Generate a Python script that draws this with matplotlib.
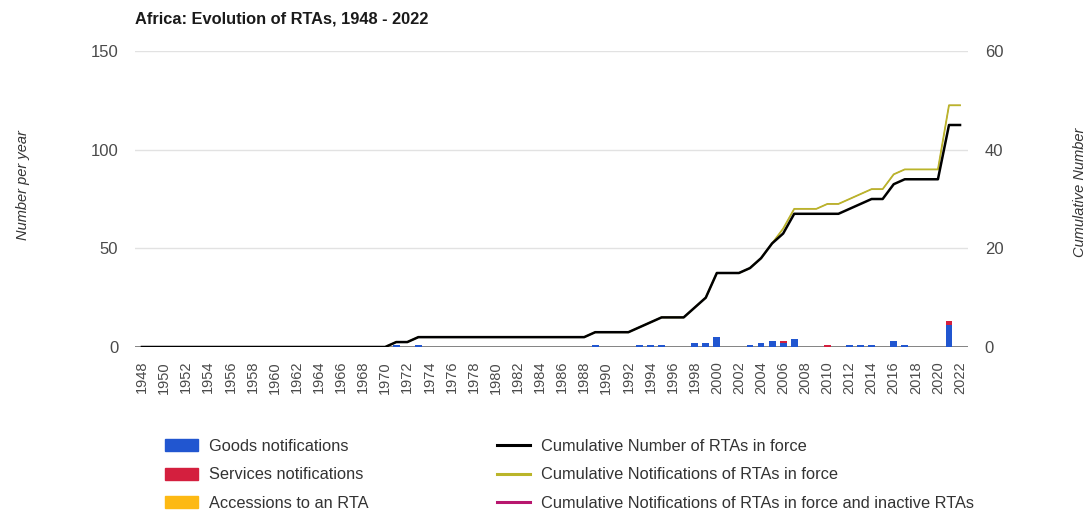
import numpy as np
import matplotlib
matplotlib.use("Agg")
import matplotlib.pyplot as plt
from matplotlib.patches import Patch
from matplotlib.lines import Line2D

plt.rcParams["font.family"] = ["Liberation Sans", "DejaVu Sans"]

# ---- data ----
years = np.arange(1948, 2023)

goods = {1971: 1, 1973: 1, 1989: 1, 1993: 1, 1994: 1, 1995: 1, 1998: 2, 1999: 2,
         2000: 5, 2003: 1, 2004: 2, 2005: 3, 2006: 2, 2007: 4, 2012: 1, 2013: 1,
         2014: 1, 2016: 3, 2017: 1, 2021: 11}
services = {2006: 1, 2010: 1, 2021: 2}
accessions = {}

cum_in_force = [0] * 23 + [
    1, 1, 2, 2, 2, 2, 2, 2, 2, 2, 2, 2, 2, 2, 2, 2, 2, 2,   # 1971-1988
    3, 3, 3, 3, 4, 5, 6, 6, 6, 8, 10, 15, 15, 15, 16, 18,   # 1989-2004
    21, 23, 27, 27, 27, 27, 27, 28, 29, 30, 30, 33, 34, 34,  # 2005-2018
    34, 34, 45, 45,                                         # 2019-2022
]
cum_notif = cum_in_force[:58] + [
    24, 28, 28, 28, 29, 29, 30, 31, 32, 32, 35, 36, 36, 36, 36, 49, 49,  # 2006-2022
]
cum_notif_inactive = list(cum_notif)

year_ticks = np.arange(1948, 2023, 2)

C = {
    "goods": "#2156d0",
    "services": "#d41f3e",
    "acc": "#fdb913",
    "cum": "#000000",
    "notif": "#bab52a",
    "inactive": "#b8166e",
    "grid": "#e2e2e2",
    "base": "#7a7a7a",
    "tick": "#4a4a4a",
}

W, H = 1087, 512
fig = plt.figure(figsize=(W / 100, H / 100), dpi=100)
ax = fig.add_axes([135 / W, 1 - 347 / H, (968 - 135) / W, (347 - 51) / H])
ax2 = ax.twinx()

g = np.array([goods.get(y, 0) for y in years])
s = np.array([services.get(y, 0) for y in years])
a = np.array([accessions.get(y, 0) for y in years])
bw = 0.62
ax.bar(years, g, bw, color=C["goods"], zorder=2)
ax.bar(years, s, bw, bottom=g, color=C["services"], zorder=2)
ax.bar(years, a, bw, bottom=g + s, color=C["acc"], zorder=2)

# inactive series coincides with the notifications line, so it sits underneath
ax2.plot(years, cum_notif_inactive, color=C["inactive"], lw=0.6, zorder=2)
ax2.plot(years, cum_notif, color=C["notif"], lw=1.3, zorder=3)
ax2.plot(years, cum_in_force, color=C["cum"], lw=1.8, zorder=4)

ax.set_xlim(1947.37, 2022.72)
ax.set_ylim(0, 150)
ax2.set_ylim(0, 60)
ax.set_yticks([0, 50, 100, 150])
ax2.set_yticks([0, 20, 40, 60])
ax.set_xticks(year_ticks)
ax.set_xticklabels([str(y) for y in year_ticks], rotation=90)

ax.grid(axis="y", color=C["grid"], lw=1.0, zorder=0)
ax.set_axisbelow(True)
for a_ in (ax, ax2):
    for sp in a_.spines.values():
        sp.set_visible(False)
ax.axhline(0, color=C["base"], lw=1.3, zorder=1)

ax.tick_params(axis="x", length=0, pad=10, labelsize=10.5, colors=C["tick"])
ax.tick_params(axis="y", length=0, pad=12, labelsize=12, colors=C["tick"])
ax2.tick_params(axis="y", length=0, pad=12, labelsize=12, colors=C["tick"])

fig.text(135 / W, 1 - 19 / H, "Africa: Evolution of RTAs, 1948 - 2022",
         fontsize=11.8, fontweight="bold", color="#1a1a1a", va="center", ha="left")
fig.text(23 / W, 1 - 185 / H, "Number per year", rotation=90, style="italic",
         fontsize=10.5, color="#333333", ha="center", va="center")
fig.text(1080 / W, 1 - 192 / H, "Cumulative Number", rotation=90, style="italic",
         fontsize=10.5, color="#333333", ha="center", va="center")

left_handles = [Patch(color=C["goods"]), Patch(color=C["services"]), Patch(color=C["acc"])]
left_labels = ["Goods notifications", "Services notifications", "Accessions to an RTA"]
right_handles = [Line2D([], [], color=C["cum"], lw=2.2),
                 Line2D([], [], color=C["notif"], lw=2.2),
                 Line2D([], [], color=C["inactive"], lw=2.2)]
right_labels = ["Cumulative Number of RTAs in force",
                "Cumulative Notifications of RTAs in force",
                "Cumulative Notifications of RTAs in force and inactive RTAs"]

leg_kw = dict(frameon=False, fontsize=11.8, handlelength=2.0, handleheight=0.75,
              handletextpad=0.7, labelspacing=0.82, borderaxespad=0,
              borderpad=0, labelcolor="#333333", loc="upper left")
fig.legend(left_handles, left_labels, bbox_to_anchor=(165 / W, 1 - 439 / H), **leg_kw)
fig.legend(right_handles, right_labels, bbox_to_anchor=(497 / W, 1 - 439 / H), **leg_kw)

fig.savefig("out.png", dpi=100)
